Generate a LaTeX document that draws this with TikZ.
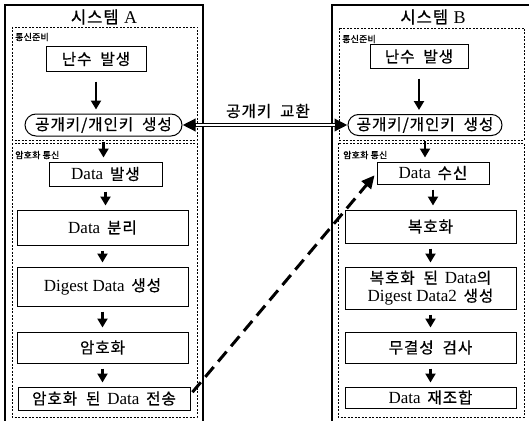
\documentclass[tikz,border=0pt]{standalone}
\usepackage{fontspec}
\setmainfont{Liberation Serif}
\newfontfamily\kr{Noto Sans CJK KR}[Scale=0.92, LetterSpace=6, FakeBold=0.6]
\newfontfamily\krs{Noto Sans CJK KR}[LetterSpace=2, FakeBold=1.2]
\usetikzlibrary{arrows.meta}
\begin{document}
\begin{tikzpicture}[x=1pt,y=-1pt,
  box/.style={draw, line width=1pt, inner sep=0pt, align=center, font=\fontsize{17}{18}\selectfont},
  grp/.style={draw, line width=0.8pt, dash pattern=on 2pt off 1.5pt},
  outer/.style={draw, line width=1.2pt},
  flow/.style={-{Triangle[length=9pt,width=10pt]}, line width=2.2pt, shorten <=5pt, shorten >=4pt},
  tag/.style={anchor=west, inner sep=0pt, font=\krs\fontsize{9}{10}\selectfont},
  title/.style={inner sep=0pt, font=\fontsize{18}{20}\selectfont},
]
\clip (0,0) rectangle (529,420);
\fill[white] (0,0) rectangle (529,420);
% outer frames
\draw[outer] (5,5) rectangle (203,430);
\draw[outer] (332,5) rectangle (540,430);
\node[title] (titleA) at (104,17) {{\kr 시스템}\hspace{0.3em}A};
\node[title] (titleB) at (433,17) {{\kr 시스템}\hspace{0.3em}B};
% group frames
\draw[grp] (12,27) rectangle (197,140);
\draw[grp] (12,143) rectangle (197,417);
\draw[grp] (339,28) rectangle (524,140);
\draw[grp] (338,143) rectangle (524,417);
\node[tag] (tagA1) at (15,37) {통신준비};
\node[tag] (tagA2) at (15,155) {암호화 통신};
\node[tag] (tagB1) at (342,39) {통신준비};
\node[tag] (tagB2) at (343,155) {암호화 통신};
% system A
\node[box, minimum width=100pt, minimum height=24pt] (randA) at (96,59) {\kr 난수 \ 발생};
\node[box, rounded corners=11pt, minimum width=157pt, minimum height=22pt] (keyA) at (103.5,125) {\kr 공개키/개인키 \ 생성};
\node[box, minimum width=113pt, minimum height=24pt] (dgenA) at (105.5,174) {Data\hspace{0.4em}{\kr 발생}};
\node[box, minimum width=171pt, minimum height=35pt] (splitA) at (102.5,227.5) {Data\hspace{0.4em}{\kr 분리}};
\node[box, minimum width=171pt, minimum height=39pt] (digA) at (102.5,286.5) {Digest Data\hspace{0.4em}{\kr 생성}};
\node[box, minimum width=171pt, minimum height=31pt] (encA) at (102.5,347.5) {\kr 암호화};
\node[box, minimum width=172pt, minimum height=23pt] (sendA) at (104,398.5) {{\kr 암호화 \ 된}\hspace{0.4em}Data\hspace{0.4em}{\kr 전송}};
% system B
\node[box, minimum width=98pt, minimum height=23pt] (randB) at (419,56.5) {\kr 난수 \ 발생};
\node[box, rounded corners=10.5pt, minimum width=154pt, minimum height=21pt] (keyB) at (425,125) {\kr 공개키/개인키 \ 생성};
\node[box, minimum width=112pt, minimum height=22pt] (recvB) at (433,173) {Data\hspace{0.4em}{\kr 수신}};
\node[box, minimum width=171pt, minimum height=33pt] (decB) at (430.5,226.5) {\kr 복호화};
\node[box, minimum width=171pt, minimum height=42pt] (dig2B) at (430.5,288) {{\kr 복호화 \ 된}\hspace{0.4em}Data{\kr 의}\\Digest Data2\hspace{0.4em}{\kr 생성}};
\node[box, minimum width=171pt, minimum height=31pt] (chkB) at (430.5,347.5) {\kr 무결성 \ 검사};
\node[box, minimum width=171pt, minimum height=21pt] (recB) at (430.5,397.5) {Data\hspace{0.4em}{\kr 재조합}};
% flows
\draw[flow, shorten <=10pt] (randA.south) -- (randA.south |- keyA.north);
\draw[flow] (keyA) -- (keyA |- dgenA.north);
\draw[flow] (dgenA) -- (dgenA |- splitA.north);
\draw[flow] (splitA) -- (digA);
\draw[flow] (digA) -- (encA);
\draw[flow] (encA) -- (encA |- sendA.north);
\draw[flow, shorten <=10pt] (randB.south) -- (randB.south |- keyB.north);
\draw[flow] (keyB.south) -- (keyB.south |- recvB.north);
\draw[flow] (recvB) -- (recvB |- decB.north);
\draw[flow] (decB) -- (dig2B);
\draw[flow] (dig2B) -- (chkB);
\draw[flow] (chkB) -- (recB);
% key exchange
\draw[line width=4pt, {Triangle[length=13pt,width=12pt]}-{Triangle[length=13pt,width=12pt]}] (keyA.east) -- (keyB.west);
\draw[white, line width=1.3pt, shorten <=13pt, shorten >=13pt] (keyA.east) -- (keyB.west);
\node[inner sep=0pt, font=\kr\fontsize{17}{18}\selectfont] (xlabel) at (268,111) {공개키 \ 교환};
% data transmission
\draw[line width=3pt, dash pattern=on 13pt off 7pt, -{Triangle[length=13pt,width=12pt]}, shorten <=3pt, shorten >=3pt] ([yshift=4pt]sendA.east) -- (recvB.west);
\end{tikzpicture}
\end{document}
